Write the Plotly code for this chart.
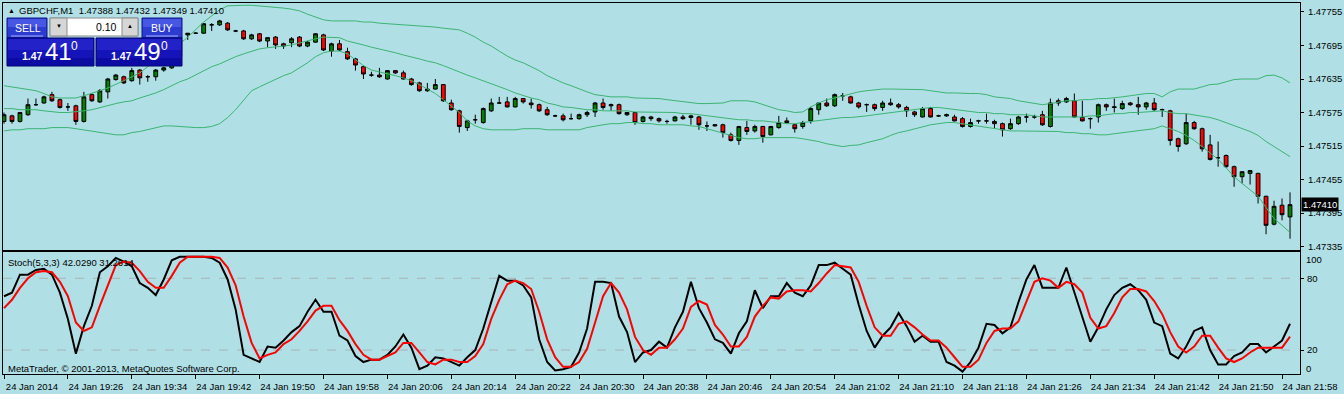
import pandas as pd
import plotly.graph_objects as go

# ---------------- data ----------------
symbol = "GBPCHF,M1"
times = pd.date_range("2014-01-24 19:18", periods=162, freq="min")

open_ = [
1.47559,1.47569,1.47559,1.47571,1.47589,1.47592,1.47607,1.47598,1.47585,1.47587,
1.47559,1.47607,1.47594,1.47612,1.47634,1.47639,1.47632,1.47651,1.47639,1.47639,
1.47651,1.47655,1.47675,1.47714,1.47717,1.47717,1.47732,1.47732,1.47735,1.47721,
1.47721,1.47707,1.47716,1.47703,1.47710,1.47698,1.47700,1.47710,1.47694,1.47701,
1.47714,1.47685,1.47698,1.47684,1.47671,1.47657,1.47642,1.47642,1.47635,1.47650,
1.47646,1.47635,1.47628,1.47614,1.47617,1.47625,1.47592,1.47578,1.47548,1.47562,
1.47557,1.47578,1.47592,1.47594,1.47585,1.47600,1.47592,1.47589,1.47580,1.47569,
1.47569,1.47564,1.47564,1.47571,1.47576,1.47592,1.47587,1.47589,1.47571,1.47575,
1.47559,1.47567,1.47564,1.47559,1.47560,1.47567,1.47566,1.47567,1.47551,1.47551,
1.47553,1.47535,1.47525,1.47548,1.47542,1.47550,1.47535,1.47548,1.47560,1.47553,
1.47550,1.47560,1.47580,1.47592,1.47587,1.47605,1.47603,1.47592,1.47589,1.47589,
1.47584,1.47592,1.47589,1.47584,1.47576,1.47567,1.47582,1.47569,1.47569,1.47567,
1.47564,1.47550,1.47560,1.47560,1.47559,1.47555,1.47546,1.47555,1.47567,1.47567,
1.47571,1.47550,1.47596,1.47594,1.47596,1.47566,1.47564,1.47567,1.47589,1.47584,
1.47582,1.47592,1.47589,1.47585,1.47592,1.47580,1.47578,1.47528,1.47519,1.47557,
1.47546,1.47517,1.47494,1.47498,1.47478,1.47460,1.47466,1.47466,1.47425,1.47375,
1.47409,1.47388]

high = [
1.47575,1.47571,1.47576,1.47600,1.47600,1.47605,1.47612,1.47600,1.47592,1.47589,
1.47612,1.47609,1.47617,1.47637,1.47644,1.47641,1.47655,1.47653,1.47642,1.47653,
1.47657,1.47678,1.47716,1.47717,1.47719,1.47735,1.47735,1.47741,1.47737,1.47723,
1.47723,1.47716,1.47717,1.47710,1.47712,1.47700,1.47710,1.47712,1.47703,1.47717,
1.47716,1.47700,1.47705,1.47691,1.47673,1.47659,1.47648,1.47655,1.47651,1.47651,
1.47650,1.47637,1.47630,1.47628,1.47635,1.47626,1.47598,1.47580,1.47562,1.47571,
1.47584,1.47600,1.47603,1.47603,1.47603,1.47601,1.47600,1.47591,1.47585,1.47571,
1.47573,1.47573,1.47573,1.47578,1.47594,1.47600,1.47591,1.47591,1.47576,1.47576,
1.47569,1.47569,1.47566,1.47562,1.47569,1.47571,1.47571,1.47569,1.47559,1.47553,
1.47555,1.47539,1.47551,1.47560,1.47553,1.47551,1.47551,1.47569,1.47566,1.47555,
1.47560,1.47585,1.47592,1.47600,1.47609,1.47610,1.47605,1.47594,1.47591,1.47591,
1.47596,1.47600,1.47592,1.47587,1.47578,1.47585,1.47585,1.47571,1.47573,1.47571,
1.47567,1.47564,1.47562,1.47573,1.47562,1.47557,1.47564,1.47569,1.47573,1.47571,
1.47578,1.47600,1.47600,1.47603,1.47609,1.47596,1.47566,1.47591,1.47591,1.47600,
1.47596,1.47594,1.47603,1.47594,1.47601,1.47582,1.47580,1.47530,1.47573,1.47560,
1.47548,1.47535,1.47523,1.47500,1.47480,1.47469,1.47471,1.47467,1.47426,1.47417,
1.47421,1.47432]

low = [
1.47555,1.47555,1.47557,1.47569,1.47587,1.47591,1.47594,1.47582,1.47578,1.47553,
1.47557,1.47594,1.47592,1.47600,1.47632,1.47626,1.47630,1.47625,1.47630,1.47632,
1.47648,1.47653,1.47673,1.47705,1.47716,1.47716,1.47721,1.47730,1.47721,1.47719,
1.47705,1.47705,1.47701,1.47692,1.47689,1.47689,1.47692,1.47692,1.47692,1.47700,
1.47685,1.47675,1.47685,1.47669,1.47650,1.47635,1.47639,1.47637,1.47634,1.47644,
1.47634,1.47623,1.47612,1.47612,1.47616,1.47594,1.47578,1.47539,1.47542,1.47555,
1.47555,1.47576,1.47591,1.47584,1.47584,1.47591,1.47582,1.47576,1.47569,1.47567,
1.47559,1.47562,1.47562,1.47567,1.47567,1.47580,1.47578,1.47571,1.47569,1.47553,
1.47557,1.47560,1.47557,1.47555,1.47559,1.47562,1.47553,1.47544,1.47542,1.47550,
1.47530,1.47523,1.47517,1.47535,1.47539,1.47521,1.47534,1.47546,1.47555,1.47539,
1.47546,1.47555,1.47571,1.47585,1.47585,1.47596,1.47591,1.47582,1.47576,1.47578,
1.47578,1.47587,1.47582,1.47567,1.47567,1.47566,1.47566,1.47567,1.47567,1.47559,
1.47548,1.47548,1.47555,1.47555,1.47546,1.47532,1.47544,1.47553,1.47557,1.47564,
1.47551,1.47548,1.47587,1.47592,1.47566,1.47559,1.47546,1.47557,1.47578,1.47575,
1.47580,1.47587,1.47571,1.47580,1.47578,1.47567,1.47516,1.47505,1.47517,1.47544,
1.47505,1.47489,1.47478,1.47476,1.47442,1.47448,1.47446,1.47412,1.47357,1.47373,
1.47382,1.47349]

close = [
1.47571,1.47559,1.47575,1.47589,1.47589,1.47603,1.47596,1.47584,1.47585,1.47559,
1.47603,1.47596,1.47614,1.47635,1.47642,1.47628,1.47650,1.47637,1.47639,1.47651,
1.47655,1.47675,1.47712,1.47717,1.47717,1.47734,1.47732,1.47739,1.47723,1.47721,
1.47707,1.47714,1.47703,1.47709,1.47696,1.47694,1.47707,1.47694,1.47701,1.47716,
1.47687,1.47698,1.47687,1.47671,1.47660,1.47644,1.47642,1.47639,1.47650,1.47646,
1.47635,1.47625,1.47614,1.47617,1.47625,1.47596,1.47580,1.47550,1.47560,1.47562,
1.47582,1.47592,1.47592,1.47585,1.47600,1.47594,1.47589,1.47578,1.47571,1.47569,
1.47562,1.47564,1.47571,1.47575,1.47592,1.47584,1.47589,1.47573,1.47575,1.47557,
1.47567,1.47564,1.47560,1.47559,1.47567,1.47564,1.47569,1.47553,1.47551,1.47553,
1.47539,1.47525,1.47550,1.47541,1.47550,1.47532,1.47550,1.47557,1.47557,1.47546,
1.47557,1.47582,1.47592,1.47587,1.47607,1.47605,1.47592,1.47585,1.47589,1.47582,
1.47592,1.47589,1.47585,1.47578,1.47571,1.47582,1.47567,1.47569,1.47571,1.47560,
1.47550,1.47557,1.47560,1.47560,1.47555,1.47544,1.47555,1.47567,1.47567,1.47567,
1.47553,1.47592,1.47592,1.47600,1.47567,1.47560,1.47564,1.47589,1.47585,1.47585,
1.47591,1.47589,1.47585,1.47592,1.47580,1.47580,1.47525,1.47514,1.47557,1.47546,
1.47510,1.47491,1.47494,1.47478,1.47460,1.47469,1.47471,1.47425,1.47373,1.47407,
1.47392,1.47410]

bb_upper = [
1.47623,1.47621,1.47619,1.47617,1.47614,1.47609,1.47603,1.47601,1.47601,1.47601,
1.47605,1.47609,1.47614,1.47619,1.47625,1.47632,1.47639,1.47646,1.47657,1.47667,
1.47678,1.47687,1.47698,1.47710,1.47723,1.47737,1.47748,1.47759,1.47766,1.47767,
1.47767,1.47767,1.47766,1.47764,1.47764,1.47762,1.47760,1.47757,1.47751,1.47746,
1.47741,1.47739,1.47739,1.47739,1.47739,1.47737,1.47737,1.47735,1.47734,1.47734,
1.47732,1.47732,1.47730,1.47730,1.47728,1.47726,1.47725,1.47723,1.47717,1.47710,
1.47701,1.47694,1.47685,1.47676,1.47669,1.47664,1.47657,1.47650,1.47641,1.47634,
1.47628,1.47623,1.47617,1.47612,1.47607,1.47605,1.47603,1.47603,1.47603,1.47601,
1.47601,1.47600,1.47600,1.47598,1.47596,1.47594,1.47592,1.47591,1.47591,1.47591,
1.47592,1.47596,1.47596,1.47596,1.47594,1.47589,1.47585,1.47580,1.47578,1.47575,
1.47576,1.47585,1.47592,1.47598,1.47601,1.47605,1.47609,1.47612,1.47614,1.47616,
1.47617,1.47617,1.47617,1.47617,1.47617,1.47616,1.47614,1.47612,1.47610,1.47610,
1.47609,1.47609,1.47609,1.47607,1.47603,1.47601,1.47600,1.47596,1.47594,1.47591,
1.47589,1.47591,1.47594,1.47596,1.47596,1.47598,1.47598,1.47600,1.47600,1.47601,
1.47603,1.47605,1.47607,1.47609,1.47609,1.47603,1.47612,1.47617,1.47617,1.47617,
1.47621,1.47625,1.47626,1.47630,1.47634,1.47635,1.47635,1.47635,1.47641,1.47642,
1.47637,1.47628]

bb_middle = [
1.47582,1.47582,1.47580,1.47580,1.47580,1.47578,1.47576,1.47575,1.47575,1.47576,
1.47578,1.47580,1.47584,1.47587,1.47591,1.47594,1.47596,1.47601,1.47605,1.47610,
1.47616,1.47623,1.47630,1.47635,1.47642,1.47650,1.47657,1.47662,1.47669,1.47675,
1.47680,1.47685,1.47689,1.47691,1.47692,1.47694,1.47696,1.47700,1.47703,1.47707,
1.47710,1.47710,1.47709,1.47703,1.47700,1.47696,1.47692,1.47689,1.47685,1.47682,
1.47678,1.47675,1.47671,1.47667,1.47664,1.47659,1.47653,1.47648,1.47642,1.47637,
1.47632,1.47626,1.47621,1.47616,1.47610,1.47605,1.47601,1.47598,1.47592,1.47589,
1.47585,1.47584,1.47582,1.47580,1.47580,1.47578,1.47578,1.47578,1.47578,1.47576,
1.47576,1.47576,1.47575,1.47575,1.47575,1.47573,1.47573,1.47571,1.47569,1.47567,
1.47566,1.47564,1.47562,1.47562,1.47560,1.47560,1.47559,1.47557,1.47555,1.47555,
1.47557,1.47559,1.47560,1.47562,1.47564,1.47566,1.47566,1.47567,1.47569,1.47571,
1.47573,1.47575,1.47576,1.47578,1.47580,1.47582,1.47584,1.47584,1.47582,1.47580,
1.47578,1.47576,1.47575,1.47575,1.47573,1.47573,1.47571,1.47571,1.47571,1.47569,
1.47567,1.47567,1.47567,1.47567,1.47567,1.47567,1.47569,1.47569,1.47571,1.47573,
1.47573,1.47575,1.47575,1.47576,1.47578,1.47578,1.47575,1.47573,1.47573,1.47571,
1.47569,1.47566,1.47562,1.47557,1.47551,1.47546,1.47541,1.47534,1.47523,1.47514,
1.47505,1.47496]

bb_lower = [
1.47542,1.47544,1.47544,1.47546,1.47546,1.47546,1.47548,1.47548,1.47548,1.47546,
1.47544,1.47541,1.47539,1.47537,1.47535,1.47535,1.47539,1.47541,1.47544,1.47548,
1.47551,1.47551,1.47550,1.47548,1.47548,1.47548,1.47550,1.47555,1.47566,1.47580,
1.47598,1.47614,1.47621,1.47628,1.47634,1.47641,1.47646,1.47655,1.47664,1.47675,
1.47682,1.47685,1.47685,1.47680,1.47669,1.47659,1.47651,1.47648,1.47644,1.47641,
1.47637,1.47632,1.47625,1.47617,1.47609,1.47598,1.47587,1.47575,1.47560,1.47551,
1.47546,1.47544,1.47544,1.47544,1.47544,1.47546,1.47546,1.47546,1.47544,1.47544,
1.47544,1.47544,1.47544,1.47548,1.47551,1.47553,1.47555,1.47555,1.47557,1.47557,
1.47555,1.47555,1.47553,1.47553,1.47553,1.47553,1.47551,1.47550,1.47546,1.47542,
1.47539,1.47534,1.47530,1.47528,1.47528,1.47530,1.47530,1.47530,1.47530,1.47530,
1.47528,1.47526,1.47523,1.47519,1.47516,1.47514,1.47516,1.47517,1.47521,1.47525,
1.47528,1.47534,1.47539,1.47542,1.47546,1.47550,1.47553,1.47555,1.47557,1.47557,
1.47555,1.47553,1.47550,1.47548,1.47546,1.47544,1.47542,1.47542,1.47542,1.47542,
1.47542,1.47541,1.47541,1.47539,1.47539,1.47537,1.47537,1.47535,1.47535,1.47537,
1.47539,1.47541,1.47542,1.47544,1.47546,1.47551,1.47546,1.47541,1.47534,1.47525,
1.47514,1.47503,1.47491,1.47476,1.47460,1.47448,1.47437,1.47425,1.47405,1.47385,
1.47373,1.47360]

stoch_main = [
65,68,83,83,87,88,83,68,46,17,
40,57,85,90,97,94,90,76,72,66,
79,95,98,98,98,98,97,93,79,54,
16,13,10,23,22,28,35,40,52,62,
52,52,32,28,15,10,12,12,16,23,
33,22,4,7,14,13,10,7,14,20,
38,60,82,78,78,74,64,29,10,3,
4,6,18,38,77,77,76,48,35,10,
18,20,27,22,39,52,77,55,43,29,
26,17,34,44,70,55,65,65,76,68,
65,74,91,91,93,88,83,58,36,22,
32,39,51,40,27,32,27,27,10,7,
2,10,22,42,41,34,39,60,79,91,
72,72,72,89,68,48,27,39,54,66,
72,75,70,62,43,40,17,13,23,36,
39,20,8,8,15,18,25,25,18,23,
28,42.0290]

stoch_signal = [
55,62,72,80,85,86,85,77,65,43,
36,39,57,74,91,94,93,86,77,72,
72,82,93,98,98,98,98,97,89,74,
48,26,13,16,18,25,29,36,44,53,
57,57,45,36,25,16,12,12,15,18,
26,26,18,10,8,12,12,10,10,15,
25,46,62,75,78,76,71,52,29,14,
6,6,10,21,43,65,76,68,54,31,
20,16,22,22,29,38,56,61,58,41,
33,23,23,31,48,57,64,63,69,70,
70,69,76,84,91,90,89,77,57,39,
32,32,42,44,39,33,28,28,22,14,
6,6,12,26,36,38,38,44,61,77,
80,78,72,77,75,68,47,38,40,51,
64,71,71,69,61,50,35,23,18,23,
32,32,22,13,10,13,18,22,22,22,
22,31.2614]

price_ticks = [1.47335, 1.47395, 1.47455, 1.47515, 1.47575, 1.47635, 1.47695, 1.47755]
stoch_levels = [20, 80]
stoch_bounds = [0, 100]
x_tick_labels = ["24 Jan 2014", "24 Jan 19:26", "24 Jan 19:34", "24 Jan 19:42", "24 Jan 19:50",
                 "24 Jan 19:58", "24 Jan 20:06", "24 Jan 20:14", "24 Jan 20:22", "24 Jan 20:30",
                 "24 Jan 20:38", "24 Jan 20:46", "24 Jan 20:54", "24 Jan 21:02", "24 Jan 21:10",
                 "24 Jan 21:18", "24 Jan 21:26", "24 Jan 21:34", "24 Jan 21:42", "24 Jan 21:50",
                 "24 Jan 21:58"]
lot_size = "0.10"
sell_quote = ["1.47", "41", "0"]
buy_quote = ["1.47", "49", "0"]

# ---------------- style / layout ----------------
FONT = "Liberation Sans"
BG = "#B0E0E6"
ML, MR, MT, MB = 2, 43, 3, 19
W, H = 1344, 394

x_str = [t.strftime("%Y-%m-%d %H:%M:%S") for t in times]
tick_x = x_str[::8]
x_range = [(times[0] - pd.Timedelta(seconds=7.5)).strftime("%Y-%m-%d %H:%M:%S.%f"),
           (times[0] + pd.Timedelta(seconds=162.25 * 60)).strftime("%Y-%m-%d %H:%M:%S.%f")]

fig = go.Figure()
fig.add_trace(go.Candlestick(
    x=x_str, open=open_, high=high, low=low, close=close,
    xaxis="x", yaxis="y", whiskerwidth=0,
    increasing=dict(fillcolor="#008000", line=dict(color="black", width=1)),
    decreasing=dict(fillcolor="#FF0000", line=dict(color="black", width=1)),
    showlegend=False, hoverinfo="skip"))
for band in (bb_upper, bb_middle, bb_lower):
    fig.add_trace(go.Scatter(x=x_str, y=band, mode="lines", xaxis="x", yaxis="y",
                             line=dict(color="#3CB371", width=1), showlegend=False, hoverinfo="skip"))
fig.add_trace(go.Scatter(x=x_str, y=stoch_main, mode="lines", xaxis="x2", yaxis="y2",
                         line=dict(color="black", width=2), showlegend=False, hoverinfo="skip"))
fig.add_trace(go.Scatter(x=x_str, y=stoch_signal, mode="lines", xaxis="x2", yaxis="y2",
                         line=dict(color="#FF0000", width=2), showlegend=False, hoverinfo="skip"))

tickfont = dict(family=FONT, size=9.5, color="black")
axis_common = dict(showline=True, mirror=True, linecolor="black", linewidth=1,
                   showgrid=False, zeroline=False)

fig.update_layout(
    width=W, height=H, autosize=False,
    margin=dict(l=ML, r=MR, t=MT, b=MB, pad=0),
    paper_bgcolor=BG, plot_bgcolor=BG,
    boxgap=0.32,
    xaxis=dict(domain=[0, 1], anchor="y", range=x_range, showticklabels=False, ticks="",
               rangeslider=dict(visible=False), **axis_common),
    xaxis2=dict(domain=[0, 1], anchor="y2", matches="x", range=x_range,
                tickmode="array", tickvals=tick_x, ticktext=x_tick_labels,
                ticks="outside", ticklen=4, tickcolor="black", tickfont=tickfont,
                ticklabelshift=28, ticklabelstandoff=0, **axis_common),
    yaxis=dict(domain=[0.3347, 1], anchor="x", side="right", range=[1.473291, 1.477711],
               tickmode="array", tickvals=price_ticks, tickformat=".5f",
               ticks="outside", ticklen=3, tickcolor="black", tickfont=tickfont,
               ticklabelstandoff=2, **axis_common),
    yaxis2=dict(domain=[0, 0.3277], anchor="x2", side="right", range=[0, 101.6],
                tickmode="array", tickvals=stoch_levels,
                ticks="outside", ticklen=3, tickcolor="black", tickfont=tickfont,
                ticklabelstandoff=1, **axis_common),
)

shapes = []
for lv in stoch_levels:
    shapes.append(dict(type="line", xref="x2 domain", x0=0, x1=1, yref="y2", y0=lv, y1=lv,
                       line=dict(color="#A8B4B6", width=1, dash="dash"), layer="below"))

def prect(x0, y0, x1, y1, fill, line=None, lw=0):
    return dict(type="rect", xref="paper", yref="paper", xsizemode="pixel", ysizemode="pixel",
                xanchor=0, yanchor=1, x0=x0 - ML, x1=x1 - ML, y0=MT - y0, y1=MT - y1,
                fillcolor=fill, line=dict(color=line or fill, width=lw), layer="above")

def pline(x0, y0, x1, y1, color, lw=1):
    return dict(type="line", xref="paper", yref="paper", xsizemode="pixel", ysizemode="pixel",
                xanchor=0, yanchor=1, x0=x0 - ML, x1=x1 - ML, y0=MT - y0, y1=MT - y1,
                line=dict(color=color, width=lw), layer="above")

# one-click trading panel
for bx0, bx1 in ((6, 46), (141, 181)):
    shapes.append(prect(bx0, 18, bx1, 38, "#2C3BD0", "#10168A", 1))
    shapes.append(prect(bx0 + 1, 19, bx1 - 1, 27, "#4757E4"))
    shapes.append(pline(bx0 + 4, 36, bx1 - 4, 36, "#A8B4FF", 1))
for bx0, bx1 in ((6, 93), (95, 181)):
    shapes.append(prect(bx0, 38, bx1, 66, "#1414B8", "#00006A", 1))
    shapes.append(prect(bx0 + 1, 39, bx1 - 1, 50, "#2222C8"))
    shapes.append(prect(bx0 + 1, 58, bx1 - 1, 65, "#0C0CA4"))
shapes.append(prect(49, 18, 137, 36, "#FFFFFF", "#8C8C8C", 1))
shapes.append(prect(49, 18, 66, 36, "#D6D6D6", "#8C8C8C", 1))
shapes.append(prect(121, 18, 137, 36, "#D6D6D6", "#8C8C8C", 1))

annotations = []

def ptext(x, y, text, size=9, color="black", anchor="left", bold=False):
    t = f"<b>{text}</b>" if bold else text
    return dict(xref="paper", yref="paper", x=0, y=1, xshift=x - ML, yshift=MT - y,
                xanchor=anchor, yanchor="middle", text=t, showarrow=False,
                font=dict(family=FONT, size=size, color=color))

header = f"{symbol}  {open_[-1]:.5f} {high[-1]:.5f} {low[-1]:.5f} {close[-1]:.5f}"
annotations.append(ptext(5, 10, "▲", size=7))
annotations.append(ptext(16, 10, header, size=9.5))
annotations.append(ptext(26.5, 28, "SELL", size=10.5, color="white", anchor="center"))
annotations.append(ptext(160.5, 28, "BUY", size=10.5, color="white", anchor="center"))
annotations.append(ptext(118, 27, lot_size, size=10.5, anchor="right"))
annotations.append(ptext(57.5, 26, "▼", size=6, anchor="center"))
annotations.append(ptext(129, 26, "▲", size=6, anchor="center"))
for (q, x_small, x_big, x_sup) in ((sell_quote, 19, 42, 68), (buy_quote, 108, 131, 158)):
    annotations.append(ptext(x_small, 56, q[0], size=10.5, color="white", bold=True))
    annotations.append(ptext(x_big, 51, q[1], size=24, color="white"))
    annotations.append(ptext(x_sup, 46, q[2], size=12, color="white"))

annotations.append(ptext(5, 262.5, f"Stoch(5,3,3) {stoch_main[-1]:.4f} {stoch_signal[-1]:.4f}", size=9.5))
annotations.append(ptext(5, 368, "MetaTrader, © 2001-2013, MetaQuotes Software Corp.", size=9.5))

annotations.append(dict(xref="paper", x=1, xanchor="left", xshift=1, yref="y", y=close[-1],
                        yanchor="middle", text=f"{close[-1]:.5f}", showarrow=False,
                        bgcolor="black", borderpad=1,
                        font=dict(family=FONT, size=9.5, color="white")))
for v, ys in zip(stoch_bounds, (5.5, -5.5)):
    annotations.append(dict(xref="paper", x=1, xanchor="left", xshift=4, yref="y2", y=v,
                            yanchor="middle", yshift=ys, text=str(v), showarrow=False,
                            font=dict(family=FONT, size=9.5, color="black")))

fig.update_layout(shapes=shapes, annotations=annotations)
fig.write_html("out.html", config={"displayModeBar": False},
               post_script="document.body.style.margin='0';document.body.style.overflow='hidden';")
